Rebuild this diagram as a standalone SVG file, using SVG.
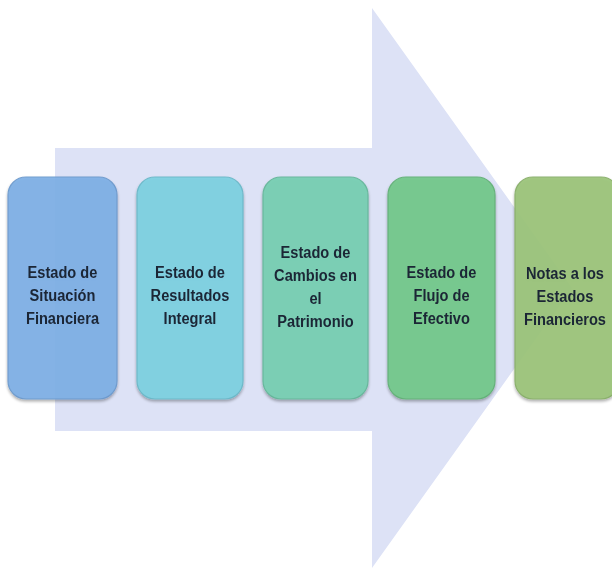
<svg xmlns="http://www.w3.org/2000/svg" width="612" height="570" viewBox="0 0 612 570">
<defs>
<filter id="sh" x="-10%" y="-10%" width="120%" height="120%">
<feGaussianBlur in="SourceAlpha" stdDeviation="1.5"/>
<feOffset dx="0" dy="1.5" result="b"/>
<feComponentTransfer><feFuncA type="linear" slope="0.35"/></feComponentTransfer>
<feMerge><feMergeNode/><feMergeNode in="SourceGraphic"/></feMerge>
</filter>
</defs>
<style>
.box{stroke-width:1.2;opacity:0.92}
.t{font-family:"Liberation Sans",Arial,sans-serif;font-weight:bold;font-size:17px;fill:#1b2636;text-anchor:middle}
</style>
<rect width="612" height="570" fill="#ffffff"/>
<g id="arrow">
<polygon points="55,148 372,148 372,8 572,288 372,568 372,431 55,431" fill="#dde2f6"/>
</g>
<g id="n1" filter="url(#sh)">
<rect class="box" x="8" y="177" width="109" height="222" rx="18" fill="#7eb0e6" stroke="#6a98cc"/>
<g transform="translate(62.5,0) scale(0.86,1)"><text class="t" x="0" y="278">Estado de</text><text class="t" x="0" y="301">Situación</text><text class="t" x="0" y="324">Financiera</text></g>
</g>
<g id="n2" filter="url(#sh)">
<rect class="box" x="137" y="177" width="106" height="222" rx="18" fill="#7dd2e2" stroke="#68b8c8"/>
<g transform="translate(190,0) scale(0.86,1)"><text class="t" x="0" y="278">Estado de</text><text class="t" x="0" y="301">Resultados</text><text class="t" x="0" y="324">Integral</text></g>
</g>
<g id="n3" filter="url(#sh)">
<rect class="box" x="263" y="177" width="105" height="222" rx="18" fill="#77d0b2" stroke="#62b698"/>
<g transform="translate(315.5,0) scale(0.86,1)"><text class="t" x="0" y="258">Estado de</text><text class="t" x="0" y="281">Cambios en</text><text class="t" x="0" y="304">el</text><text class="t" x="0" y="327">Patrimonio</text></g>
</g>
<g id="n4" filter="url(#sh)">
<rect class="box" x="388" y="177" width="107" height="222" rx="18" fill="#74c98a" stroke="#5fb074"/>
<g transform="translate(441.5,0) scale(0.86,1)"><text class="t" x="0" y="278">Estado de</text><text class="t" x="0" y="301">Flujo de</text><text class="t" x="0" y="324">Efectivo</text></g>
</g>
<g id="n5" filter="url(#sh)">
<rect class="box" x="515" y="177" width="104" height="222" rx="18" fill="#9cc57a" stroke="#86ad66"/>
<g transform="translate(565,0) scale(0.86,1)"><text class="t" x="0" y="279">Notas a los</text><text class="t" x="0" y="302">Estados</text><text class="t" x="0" y="325">Financieros</text></g>
</g>
<g id="connectors"></g>
</svg>
